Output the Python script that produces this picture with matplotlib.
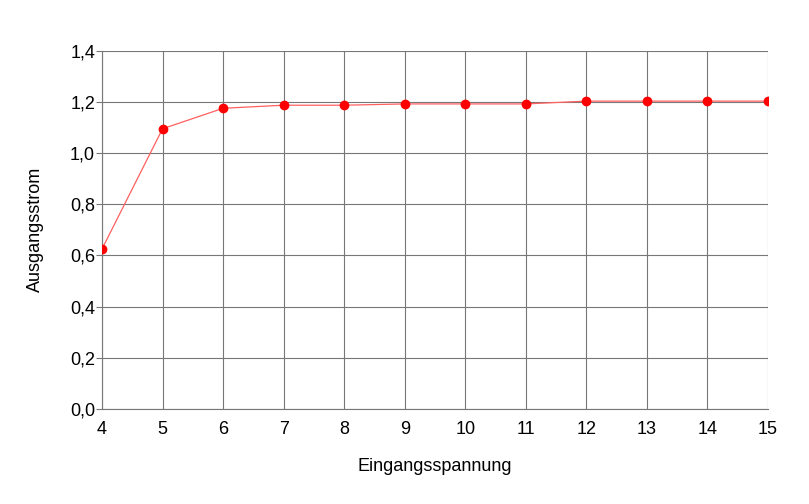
import matplotlib
matplotlib.use("Agg")
import matplotlib.pyplot as plt
from matplotlib.ticker import FuncFormatter

x_values = [4, 5, 6, 7, 8, 9, 10, 11, 12, 13, 14, 15]
y_values = [0.625, 1.095, 1.175, 1.187, 1.187, 1.192, 1.192, 1.192, 1.203, 1.203, 1.203, 1.203]
y_ticks = [0.0, 0.2, 0.4, 0.6, 0.8, 1.0, 1.2, 1.4]
x_label = "Eingangsspannung"
y_label = "Ausgangsstrom"

plt.rcParams['font.family'] = ['Liberation Sans', 'DejaVu Sans']

fig = plt.figure(figsize=(8.09, 5.04), dpi=100)
ax = fig.add_axes([102/809, 95/504, (768-102)/809, (409-50.7)/504])

ax.plot(x_values, y_values, color='#ff6060', lw=0.9, zorder=3)
ax.plot(x_values, y_values, 'o', color='#ff0000', ms=6, mec='#ff0000', zorder=4)

ax.set_xlim(4, 15)
ax.set_ylim(0, 1.4)
ax.set_xticks(x_values)
ax.set_yticks(y_ticks)
ax.yaxis.set_major_formatter(FuncFormatter(lambda v, p: f"{v:.1f}".replace('.', ',')))
ax.grid(True, color='#777777', lw=0.8)
ax.set_axisbelow(True)
for s in ['top', 'right']:
    ax.spines[s].set_visible(False)
for s in ['left', 'bottom']:
    ax.spines[s].set_color('#777777')
    ax.spines[s].set_linewidth(0.8)
ax.tick_params(axis='y', length=4, color='#777777', labelsize=13, pad=1)
ax.tick_params(axis='x', length=0, labelsize=13, pad=9)
ax.set_xlabel(x_label, fontsize=13, labelpad=14)
ax.set_ylabel(y_label, fontsize=13, labelpad=19)

fig.savefig("out.png", dpi=100)
